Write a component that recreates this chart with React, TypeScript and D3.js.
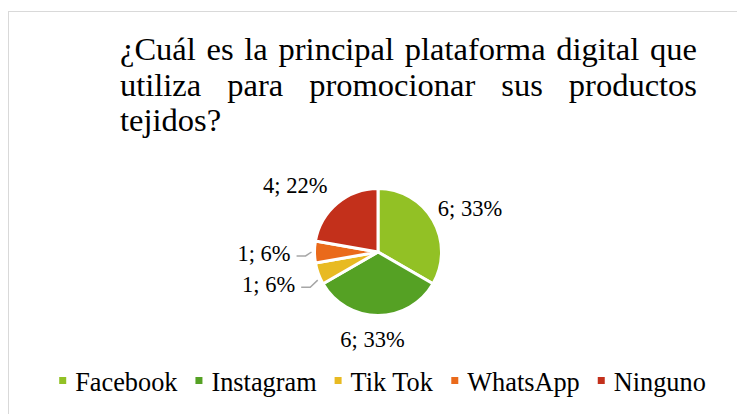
import React from "react";
import * as d3 from "d3";

const categories = ["Facebook", "Instagram", "Tik Tok", "WhatsApp", "Ninguno"];
const values = [6, 6, 1, 1, 4];
const percentLabels = ["33%", "33%", "6%", "6%", "22%"];
const colors = ["#92C125", "#55A124", "#E8BA22", "#EA6A1B", "#C3301B"];
const titleLines = [
  "¿Cuál es la principal plataforma digital que",
  "utiliza para promocionar sus productos",
  "tejidos?",
];

const W = 737;
const H = 414;
const FONT = '"Liberation Serif", "Times New Roman", Times, serif';

// label layout: radius from centre and angle offset (deg) from slice mid-angle
const labelLayout = [
  { r: 102, da: 4.4, leader: false, la: 0 },
  { r: 88, da: 3.6, leader: false, la: 0 },
  { r: 114, da: 3.6, leader: true, la: -5 },
  { r: 114, da: -0.5, leader: true, la: 0 },
  { r: 106, da: -11.3, leader: false, la: 0 },
];

let ctx: CanvasRenderingContext2D | null = null;
function measure(text: string, size: number): number {
  if (!ctx) {
    const c = document.createElement("canvas");
    ctx = c.getContext("2d");
  }
  if (!ctx) return text.length * size * 0.45;
  ctx.font = `${size}px ${FONT}`;
  return ctx.measureText(text).width;
}

export default function App() {
  const cx = 378;
  const cy = 252;
  const radius = 63.5;

  const pie = d3.pie<number>().sort(null).value((d) => d);
  const arcs = pie(values);
  const arcGen = d3.arc<d3.PieArcDatum<number>>().innerRadius(0).outerRadius(radius);

  // Title
  const titleSize = 32.5;
  const titleX0 = 120;
  const titleX1 = 697;
  const titleBaselines = [60, 96, 131];

  const titleEls: React.ReactNode[] = [];
  titleLines.forEach((line, li) => {
    const words = line.split(" ");
    const justify = li < titleLines.length - 1 && words.length > 1;
    if (!justify) {
      titleEls.push(
        <text key={`t${li}`} x={titleX0} y={titleBaselines[li]} fontSize={titleSize} fontFamily={FONT} fill="#000">
          {line}
        </text>
      );
      return;
    }
    const widths = words.map((w) => measure(w, titleSize));
    const sum = widths.reduce((a, b) => a + b, 0);
    const gap = (titleX1 - titleX0 - sum) / (words.length - 1);
    let x = titleX0;
    words.forEach((w, wi) => {
      titleEls.push(
        <text key={`t${li}-${wi}`} x={x} y={titleBaselines[li]} fontSize={titleSize} fontFamily={FONT} fill="#000">
          {w}
        </text>
      );
      x += widths[wi] + gap;
    });
  });

  // Labels
  const labelSize = 22.5;
  const toRad = Math.PI / 180;
  const labelEls = arcs.map((a, i) => {
    const mid = (a.startAngle + a.endAngle) / 2;
    const lay = labelLayout[i];
    const ang = mid + lay.da * toRad;
    const lx = cx + lay.r * Math.sin(ang);
    const ly = cy - lay.r * Math.cos(ang);
    const txt = `${values[i]}; ${percentLabels[i]}`;
    const tw = measure(txt, labelSize);
    let leader: React.ReactNode = null;
    if (lay.leader) {
      const sx = lx + tw / 2 + 6;
      const sy = ly + 3;
      const ex = sx + 9;
      const pa = mid + lay.la * toRad;
      const px = cx + (radius + 3) * Math.sin(pa);
      const py = cy - (radius + 3) * Math.cos(pa);
      leader = (
        <polyline
          points={`${sx},${sy} ${ex},${sy} ${px},${py}`}
          fill="none"
          stroke="#A6A6A6"
          strokeWidth={1.5}
        />
      );
    }
    return (
      <g key={`l${i}`}>
        {leader}
        <text x={lx} y={ly} dy="0.34em" textAnchor="middle" fontSize={labelSize} fontFamily={FONT} fill="#000">
          {txt}
        </text>
      </g>
    );
  });

  // Legend
  const legendSize = 26.3;
  const marker = 7;
  const markerGap = 9;
  const itemGap = 18;
  const itemWidths = categories.map((c) => marker + markerGap + measure(c, legendSize));
  const legendTotal = itemWidths.reduce((a, b) => a + b, 0) + itemGap * (categories.length - 1);
  const legendX0 = 382.5 - legendTotal / 2;
  const legendBaseline = 391;
  let lxCursor = legendX0;
  const legendEls = categories.map((c, i) => {
    const x = lxCursor;
    lxCursor += itemWidths[i] + itemGap;
    return (
      <g key={`lg${i}`}>
        <rect x={x} y={legendBaseline - 14} width={marker} height={marker} fill={colors[i]} />
        <text x={x + marker + markerGap} y={legendBaseline} fontSize={legendSize} fontFamily={FONT} fill="#000">
          {c}
        </text>
      </g>
    );
  });

  return (
    <svg
      width={W}
      height={H}
      viewBox={`0 0 ${W} ${H}`}
      style={{ position: "absolute", left: 0, top: 0, background: "#fff" }}
    >
      <rect x={0} y={0} width={W} height={H} fill="#fff" />
      <line x1={8.5} y1={11} x2={8.5} y2={H} stroke="#D9D9D9" strokeWidth={1} />
      <line x1={8} y1={11.5} x2={W} y2={11.5} stroke="#D9D9D9" strokeWidth={1} />
      {titleEls}
      <g transform={`translate(${cx},${cy})`}>
        {arcs.map((a, i) => (
          <path key={`s${i}`} d={arcGen(a) || ""} fill={colors[i]} stroke="#fff" strokeWidth={3} strokeLinejoin="round" />
        ))}
      </g>
      {labelEls}
      {legendEls}
    </svg>
  );
}
